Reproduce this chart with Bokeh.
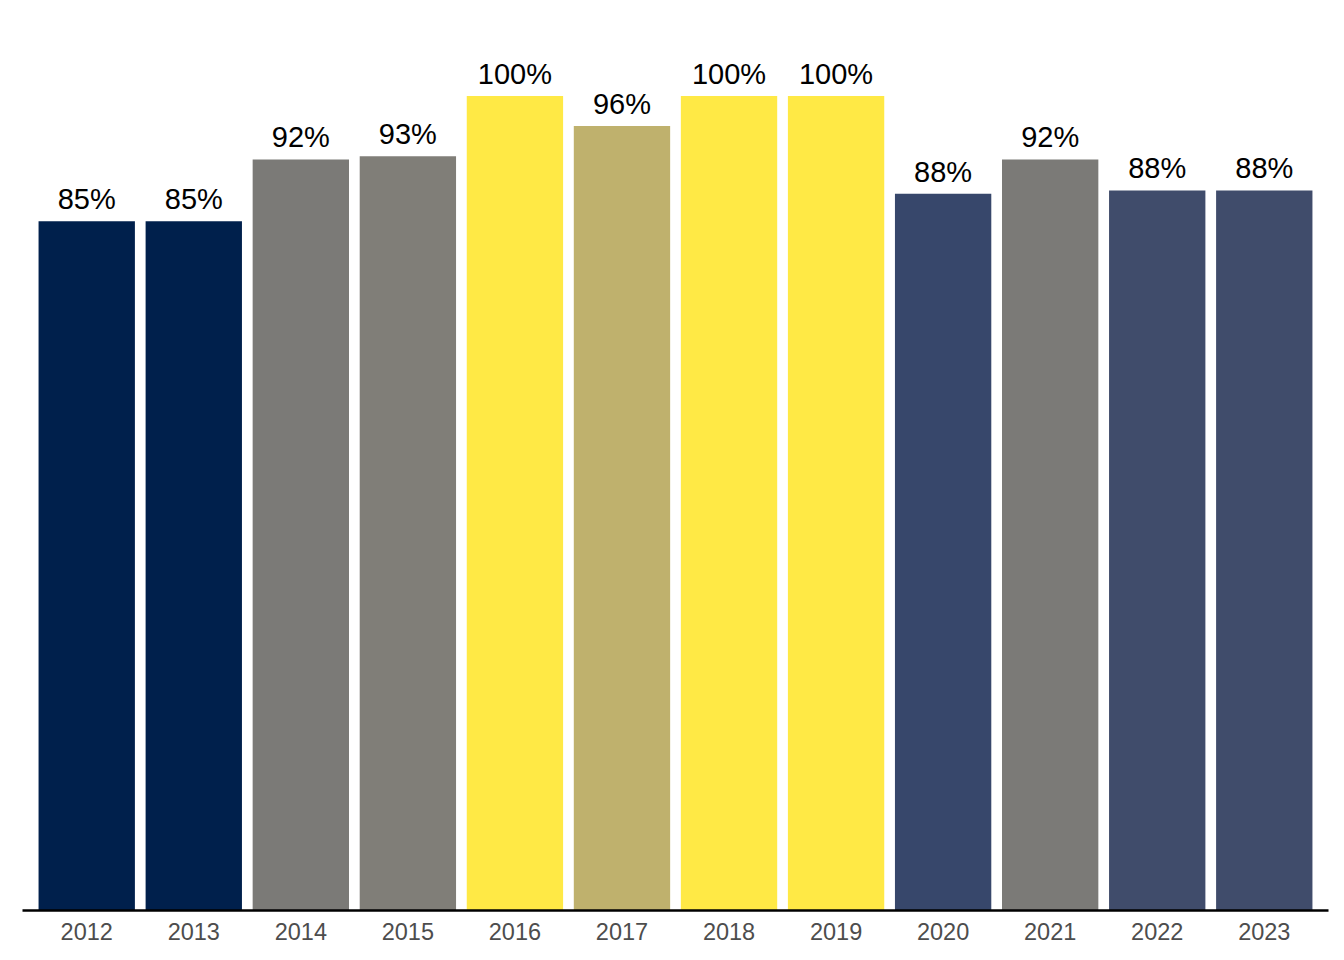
from bokeh.plotting import figure
from bokeh.models import ColumnDataSource, FixedTicker, Range1d
from bokeh.palettes import Cividis256
from bokeh.transform import linear_cmap
from bokeh.core.properties import value
from bokeh.embed import file_html
from bokeh.resources import INLINE

years = ["2012", "2013", "2014", "2015", "2016", "2017",
         "2018", "2019", "2020", "2021", "2022", "2023"]
values = [84.6, 84.6, 92.2, 92.6, 100.0, 96.3, 100.0, 100.0, 88.0, 92.2, 88.4, 88.4]
labels = ["85%", "85%", "92%", "93%", "100%", "96%",
          "100%", "100%", "88%", "92%", "88%", "88%"]

xs = list(range(1, len(years) + 1))
src = ColumnDataSource(dict(x=xs, value=values, label=labels))

p = figure(width=1336, height=952, output_backend="svg", toolbar_location=None,
           x_range=Range1d(0.4, 12.6), y_range=Range1d(0, 109.75),
           min_border_left=22, min_border_right=8, min_border_top=16,
           min_border_bottom=42)

cmap = linear_cmap("value", Cividis256, min(values), max(values))
p.vbar(x="x", top="value", bottom=0, width=0.9, source=src,
       fill_color=cmap, line_color=None)

p.text(x="x", y="value", text="label", source=src, y_offset=-22,
       text_align="center", text_baseline="alphabetic",
       text_font=value("Liberation Sans"), text_font_size="29px",
       text_color="black")

p.yaxis.visible = False
p.xgrid.grid_line_color = None
p.ygrid.grid_line_color = None
p.outline_line_color = None
p.background_fill_color = "white"
p.border_fill_color = "white"

ax = p.xaxis[0]
ax.ticker = FixedTicker(ticks=xs)
ax.major_label_overrides = {x: y for x, y in zip(xs, years)}
ax.major_tick_line_color = None
ax.minor_tick_line_color = None
ax.axis_line_color = "black"
ax.axis_line_width = 2.5
ax.major_label_text_font = "Liberation Sans"
ax.major_label_text_font_size = "23.5px"
ax.major_label_text_color = "#4D4D4D"
ax.major_label_standoff = 6

open("out.html", "w").write(file_html(p, INLINE))
